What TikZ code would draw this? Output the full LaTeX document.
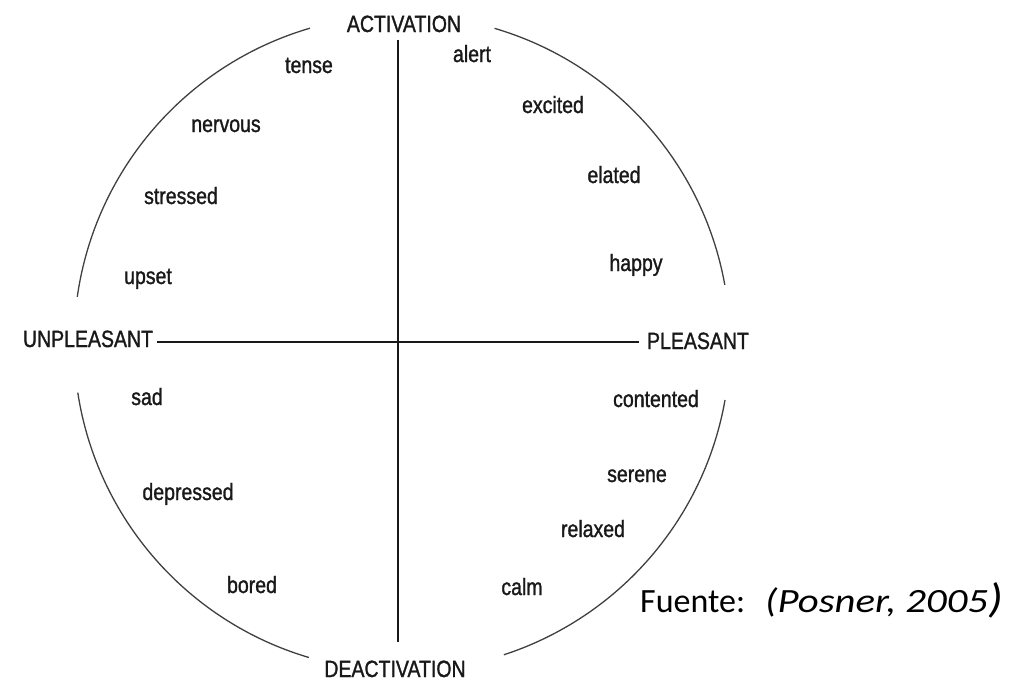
\documentclass[tikz,border=0pt]{standalone}
\usepackage{fontspec}
\setmainfont{Liberation Sans}
\newfontfamily\lblfont[FakeStretch=0.83,FakeBold=1.2]{Liberation Sans}
\newfontfamily\srcfont{Carlito}
\newfontfamily\srcitfont[FakeStretch=1.2]{Carlito Italic}
\begin{document}
\begin{tikzpicture}[x=1pt,y=-1pt,
  lbl/.style={anchor=base,inner sep=0pt,text=black!90,font=\lblfont\fontsize{23.5}{24}\selectfont},
  arcline/.style={draw=black!75,line width=1.3pt},
  axis/.style={draw=black!90,line width=1.8pt}]
\useasboundingbox[fill=white] (0,0) rectangle (1030,680);
\coordinate (c) at (402,343);
% circle arcs
\draw[arcline] (c) ++(-171.9:328) arc[start angle=-171.9,end angle=-106.3,radius=328];
\draw[arcline] (c) ++(-73.6:328) arc[start angle=-73.6,end angle=-10.2,radius=328];
\draw[arcline] (c) ++(10.0:328) arc[start angle=10.0,end angle=71.9,radius=328];
\draw[arcline] (c) ++(106.5:328) arc[start angle=106.5,end angle=171.3,radius=328];
% axis labels
\node[lbl] (act) at (404,32) {ACTIVATION};
\node[lbl] (deact) at (395,677) {DEACTIVATION};
\node[lbl] (unp) at (88,347) {UNPLEASANT};
\node[lbl] (ple) at (698,349) {PLEASANT};
% axes
\coordinate (top) at (398,40);
\coordinate (bot) at (398,642);
\coordinate (lft) at (157,342);
\coordinate (rgt) at (639,342);
\draw[axis] (top) -- (bot);
\draw[axis] (lft) -- (rgt);
% words
\node[lbl] (tense) at (309,73) {tense};
\node[lbl] (alert) at (472,62) {alert};
\node[lbl] (nervous) at (226,132) {nervous};
\node[lbl] (stressed) at (181,204) {stressed};
\node[lbl] (upset) at (148,284) {upset};
\node[lbl] (excited) at (553,113) {excited};
\node[lbl] (elated) at (614,183) {elated};
\node[lbl] (happy) at (636,271) {happy};
\node[lbl] (sad) at (147,405) {sad};
\node[lbl] (depressed) at (188,500) {depressed};
\node[lbl] (bored) at (252,593) {bored};
\node[lbl] (contented) at (656,407) {contented};
\node[lbl] (serene) at (637,482) {serene};
\node[lbl] (relaxed) at (593,537) {relaxed};
\node[lbl] (calm) at (522,595) {calm};
% source
\node[anchor=base west,inner sep=0pt,font=\srcfont\fontsize{34}{36}\selectfont] (src) at (640,612)
  {Fuente:\hspace{20pt}{\srcitfont(Posner, 2005}{\srcitfont\fontsize{41}{42}\selectfont)}};
\end{tikzpicture}
\end{document}
